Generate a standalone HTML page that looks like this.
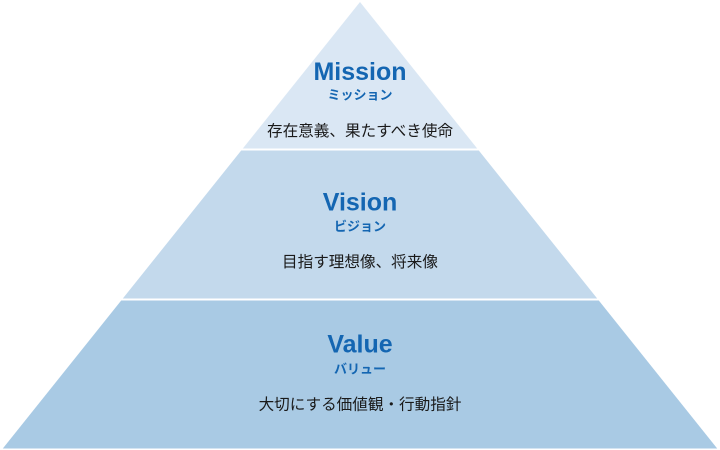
<!DOCTYPE html>
<html><head><meta charset="utf-8">
<style>
html,body{margin:0;padding:0;background:#fff;}
svg{display:block;}
.t{font-family:"Liberation Sans","Noto Sans CJK JP",sans-serif;font-weight:bold;fill:#1466b2;}
.k{font-family:"Noto Sans CJK JP","Liberation Sans",sans-serif;font-weight:bold;fill:#1466b2;}
.j{font-family:"Liberation Sans","Noto Sans CJK JP",sans-serif;fill:#1a1a1a;}
</style></head>
<body>
<svg width="720" height="450" viewBox="0 0 720 450" xmlns="http://www.w3.org/2000/svg">
<polygon points="360,2 477.2,148.5 242.8,148.5" fill="#dae7f4"/>
<polygon points="241.2,150.5 478.8,150.5 597.2,298.5 122.8,298.5" fill="#c3d9ec"/>
<polygon points="121.2,300.5 598.8,300.5 717.2,448.5 2.8,448.5" fill="#a9cae4"/>
<text class="t" x="360" y="80" font-size="25" text-anchor="middle">Mission</text>
<text class="k" x="360" y="99.5" font-size="13" text-anchor="middle">ミッション</text>
<text class="j" x="360" y="136" font-size="15.6" text-anchor="middle">存在意義、果たすべき使命</text>
<text class="t" x="360" y="210.7" font-size="25" text-anchor="middle">Vision</text>
<text class="k" x="360" y="231" font-size="13" text-anchor="middle">ビジョン</text>
<text class="j" x="360" y="267" font-size="15.6" text-anchor="middle">目指す理想像、将来像</text>
<text class="t" x="360" y="352.7" font-size="25" text-anchor="middle">Value</text>
<text class="k" x="360" y="373.5" font-size="13" text-anchor="middle">バリュー</text>
<text class="j" x="360" y="409.5" font-size="15.6" text-anchor="middle">大切にする価値観・行動指針</text>
</svg>
</body></html>
